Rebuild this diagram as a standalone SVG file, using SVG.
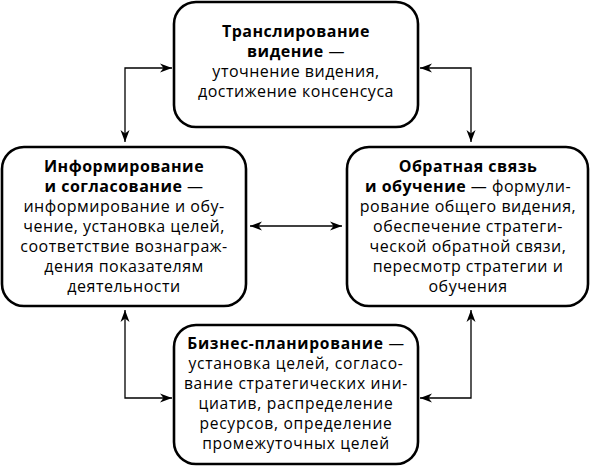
<svg xmlns="http://www.w3.org/2000/svg" width="592" height="466" viewBox="0 0 592 466">
<defs>
<marker id="ah" viewBox="0 0 12 10" refX="12" refY="5" markerWidth="12" markerHeight="10" markerUnits="userSpaceOnUse" orient="auto-start-reverse">
<path d="M0,0.5 L12,5 L0,9.5 L3.5,5 z" fill="#000"/>
</marker>
<style>
.box{fill:#fff;stroke:#000;stroke-width:2.6}
.t{font-family:"Open Sans","Noto Sans",sans-serif;font-size:16px;letter-spacing:0.5px;fill:#000;text-anchor:middle}
.s{font-size:15.6px;letter-spacing:0.7px}
.b{font-weight:bold}
.c{fill:none;stroke:#000;stroke-width:1.3}
</style>
</defs>
<rect width="592" height="466" fill="#fff"/>
<g id="connectors">
<path class="c" d="M172,68 H125 V142" marker-start="url(#ah)" marker-end="url(#ah)"/>
<path class="c" d="M420,68 H471 V142" marker-start="url(#ah)" marker-end="url(#ah)"/>
<path class="c" d="M250,226 H342" marker-start="url(#ah)" marker-end="url(#ah)"/>
<path class="c" d="M125,310 V398 H172" marker-start="url(#ah)" marker-end="url(#ah)"/>
<path class="c" d="M471,310 V398 H420" marker-start="url(#ah)" marker-end="url(#ah)"/>
</g>
<g id="node-top">
<rect class="box" x="174" y="2" width="244" height="125" rx="22"/>
<text class="t"><tspan x="296" y="37" class="b">Транслирование</tspan><tspan x="296" y="57"><tspan class="b">видение</tspan> —</tspan><tspan x="296" y="77">уточнение видения,</tspan><tspan x="296" y="97">достижение консенсуса</tspan></text>
</g>
<g id="node-left">
<rect class="box" x="2" y="147" width="244" height="159" rx="22"/>
<text class="t"><tspan x="124" y="172" class="b">Информирование</tspan><tspan x="124" y="192"><tspan class="b">и согласование</tspan> —</tspan><tspan x="124" y="212">информирование и обу-</tspan><tspan x="124" y="232">чение, установка целей,</tspan><tspan x="124" y="252">соответствие вознаграж-</tspan><tspan x="124" y="272">дения показателям</tspan><tspan x="124" y="292">деятельности</tspan></text>
</g>
<g id="node-right">
<rect class="box" x="347" y="147" width="241" height="159" rx="22"/>
<text class="t"><tspan x="468" y="172" class="b">Обратная связь</tspan><tspan x="468" y="192"><tspan class="b">и обучение</tspan> — формули-</tspan><tspan x="468" y="212">рование общего видения,</tspan><tspan x="468" y="232">обеспечение стратеги-</tspan><tspan x="468" y="252">ческой обратной связи,</tspan><tspan x="468" y="272">пересмотр стратегии и</tspan><tspan x="468" y="292">обучения</tspan></text>
</g>
<g id="node-bottom">
<rect class="box" x="174" y="325" width="244" height="139" rx="22"/>
<text class="t s"><tspan x="296" y="349"><tspan class="b">Бизнес-планирование</tspan> —</tspan><tspan x="296" y="369">установка целей, согласо-</tspan><tspan x="296" y="389">вание стратегических ини-</tspan><tspan x="296" y="409">циатив, распределение</tspan><tspan x="296" y="429">ресурсов, определение</tspan><tspan x="296" y="449">промежуточных целей</tspan></text>
</g>
</svg>
